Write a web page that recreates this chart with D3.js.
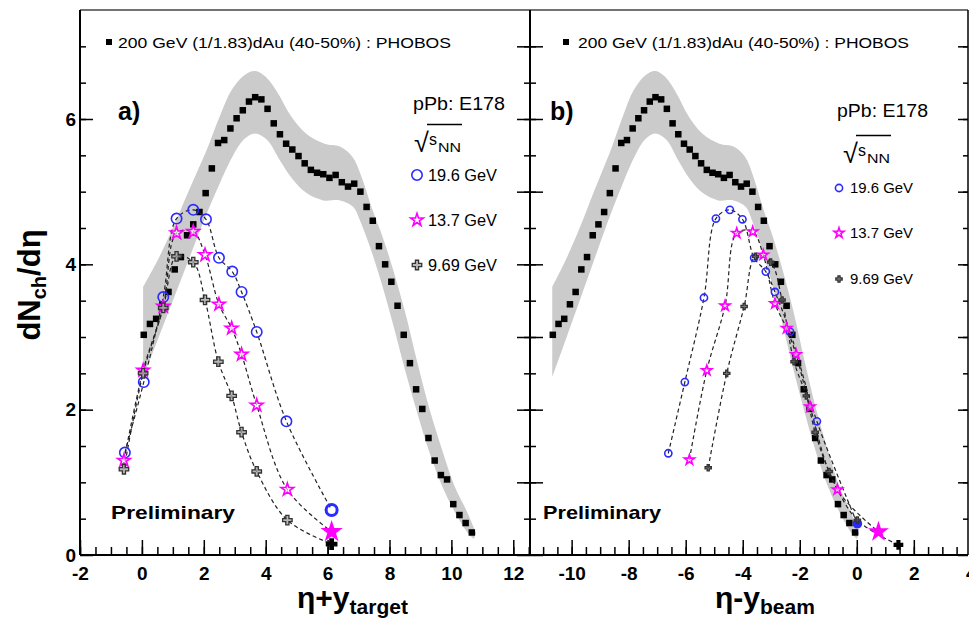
<!DOCTYPE html>
<html>
<head>
<meta charset="utf-8">
<script src="https://cdn.jsdelivr.net/npm/d3@7/dist/d3.min.js"></script>
<style>
html,body{margin:0;padding:0;background:#fff;}
svg{display:block;}
text{font-family:"Liberation Sans",Arial,Helvetica,sans-serif;fill:#000;}
</style>
</head>
<body>
<svg id="chart" width="969" height="623"></svg>
<script>
// ---------------- data ----------------
const yTarget = 5.36;   // η + y_target (left panel)
const yBeam = 5.36;     // η − y_beam (right panel)

// PHOBOS 200 GeV (1/1.83) dAu (40-50%)
const phobosEta = [-5.3,-5.1,-4.9,-4.7,-4.5,-4.3,-4.1,-3.9,-3.7,-3.5,-3.3,-3.1,-2.9,-2.7,-2.5,-2.3,-2.1,-1.9,-1.7,-1.5,-1.3,-1.1,-0.9,-0.7,-0.5,-0.3,-0.1,0.1,0.3,0.5,0.7,0.9,1.1,1.3,1.5,1.7,1.9,2.1,2.3,2.5,2.7,2.9,3.1,3.3,3.5,3.7,3.9,4.1,4.3,4.5,4.7,4.9,5.1,5.3];
const phobosDN = [3.03,3.18,3.25,3.45,3.62,3.93,4.10,4.40,4.55,4.72,4.98,5.32,5.67,5.71,5.87,6.01,6.12,6.24,6.30,6.27,6.14,5.94,5.79,5.66,5.58,5.49,5.39,5.30,5.26,5.24,5.19,5.23,5.13,5.07,5.11,5.00,4.79,4.60,4.25,4.00,3.76,3.43,3.03,2.64,2.28,2.01,1.61,1.30,1.10,1.04,0.70,0.55,0.44,0.31];

// PHOBOS systematic band edges (in η + y_target)
const bandUpX = [0.04,0.5,1.0,1.5,2.09,2.5,2.9,3.3,3.65,4.0,4.4,4.8,5.3,5.9,6.4,6.8,7.1,7.45,7.8,8.1,8.5,8.9,9.3,9.7,10.1,10.5,10.8];
const bandUpY = [3.69,4.05,4.5,5.0,5.57,6.02,6.4,6.6,6.66,6.58,6.35,6.05,5.8,5.66,5.62,5.48,5.2,4.75,4.35,3.95,3.35,2.65,2.0,1.45,0.95,0.6,0.3];
const bandLoX = [0.04,0.5,1.0,1.5,2.0,2.5,2.95,3.3,3.65,4.05,4.46,4.89,5.32,5.86,6.4,6.83,7.04,7.37,7.7,8.1,8.5,8.9,9.3,9.7,10.1,10.5,10.72];
const bandLoY = [2.45,2.95,3.5,4.05,4.6,5.1,5.5,5.72,5.80,5.71,5.43,5.16,4.98,4.88,4.88,4.79,4.61,4.24,3.8,3.2,2.55,1.95,1.4,0.95,0.6,0.32,0.22];

// E178 pPb, left panel (η + y_target)
const left196X = [-0.55,0.06,0.69,1.12,1.66,2.07,2.49,2.92,3.22,3.71,4.67,6.13];
const left196Y = [1.41,2.38,3.55,4.63,4.75,4.62,4.09,3.90,3.62,3.07,1.84,0.62];
const left137X = [-0.58,0.04,0.69,1.12,1.66,2.04,2.49,2.90,3.22,3.71,4.70,6.13];
const left137Y = [1.30,2.54,3.42,4.43,4.45,4.13,3.45,3.12,2.76,2.06,0.90,0.32];
const left969X = [-0.58,0.04,0.69,1.12,1.66,2.04,2.47,2.90,3.22,3.71,4.70,6.13];
const left969Y = [1.18,2.50,3.40,4.11,4.03,3.51,2.66,2.19,1.69,1.15,0.48,0.15];

// E178 pPb, right panel (η − y_beam)
const right196X = [-6.61,-6.03,-5.36,-4.94,-4.45,-4.01,-3.60,-3.19,-2.87,-2.34,-1.40,0.02];
const right196Y = [1.40,2.38,3.54,4.63,4.75,4.62,4.09,3.90,3.62,3.07,1.84,0.43];
const right137X = [-5.87,-5.26,-4.62,-4.21,-3.65,-3.28,-2.87,-2.46,-2.13,-1.64,-0.68,0.76];
const right137Y = [1.31,2.54,3.43,4.43,4.45,4.13,3.46,3.12,2.76,2.04,0.90,0.32];
const right969X = [-5.21,-4.56,-3.95,-3.55,-3.02,-2.62,-2.20,-1.77,-1.46,-0.97,0.02,1.46];
const right969Y = [1.20,2.50,3.42,4.11,4.03,3.51,2.66,2.19,1.69,1.15,0.48,0.14];

const energyLabels = ["19.6 GeV", "13.7 GeV", "9.69 GeV"];
const phobosLabel = "200 GeV (1/1.83)dAu (40-50%) : PHOBOS";
const xTicksLeft = [-2,0,2,4,6,8,10,12];
const xTicksRight = [-10,-8,-6,-4,-2,0,2,4];
const yTicks = [0,2,4,6];

// ---------------- layout ----------------
const svg = d3.select("#chart");
const FONT = '"Liberation Sans",Arial,Helvetica,sans-serif';
const yS = d3.scaleLinear().domain([0, 7.5]).range([555, 10]);
const xL = d3.scaleLinear().domain([-2, 12.54]).range([80, 530]);
const xR = d3.scaleLinear().domain([-11.46, 3.9]).range([530, 968]);

const BLUE = "#2b2bff", MAG = "#ff00ff", CROSS = "#333";

const defs = svg.append("defs");
defs.append("clipPath").attr("id","clipL").append("rect").attr("x",80).attr("y",10).attr("width",450).attr("height",545);
defs.append("clipPath").attr("id","clipR").append("rect").attr("x",530).attr("y",10).attr("width",438).attr("height",545);

function halfTicks(lo, hi) {
  return d3.range(Math.round(lo * 2), Math.round(hi * 2) + 1).map(k => k / 2);
}

function drawPanel(x, clipId, shiftPh, sets, side) {
  const g = svg.append("g").attr("clip-path", `url(#${clipId})`);
  // band
  const line = d3.line().curve(d3.curveCatmullRom.alpha(0.5));
  const up = line(bandUpX.map((v, i) => [x(v - yTarget + shiftPh), yS(bandUpY[i])]));
  const lo = line(bandLoX.map((v, i) => [x(v - yTarget + shiftPh), yS(bandLoY[i])]).reverse());
  g.append("path").attr("d", up + "L" + lo.slice(1) + "Z").attr("fill", "#cbcbcb").attr("stroke", "none");
  // PHOBOS squares
  const s = 6.5;
  g.selectAll("rect.ph").data(phobosEta).join("rect").attr("class","ph")
    .attr("x", (d) => x(d + shiftPh) - s / 2)
    .attr("y", (d, i) => yS(phobosDN[i]) - s / 2)
    .attr("width", s).attr("height", s).attr("fill", "#000");
  // dashed curves
  const cl = d3.line().curve(d3.curveCatmullRom.alpha(0.5)).x(d => x(d[0])).y(d => yS(d[1]));
  sets.forEach(st => {
    g.append("path").attr("d", cl(st.xs.map((v, i) => [v, st.ys[i]])))
      .attr("fill", "none").attr("stroke", "#222").attr("stroke-width", 1.2).attr("stroke-dasharray", "4,3");
  });
  // markers
  sets.forEach(st => {
    st.xs.forEach((v, i) => {
      const last = i === st.xs.length - 1;
      drawMarker(g, st.kind, x(v), yS(st.ys[i]), side, last);
    });
  });
}

function drawMarker(g, kind, cx, cy, side, last) {
  const small = side === "R";
  if (kind === "circle") {
    g.append("circle").attr("cx", cx).attr("cy", cy)
      .attr("r", small ? (last ? 4 : 3.6) : (last ? 5.5 : 5.2))
      .attr("fill", small && last ? BLUE : "none")
      .attr("stroke", BLUE).attr("stroke-width", !small && last ? 3 : 1.6);
  } else if (kind === "star") {
    const size = small ? (last ? 80 : 32) : (last ? 95 : 50);
    g.append("path").attr("d", d3.symbol().type(d3.symbolStar).size(size)())
      .attr("transform", `translate(${cx},${cy})`)
      .attr("fill", last ? MAG : "#fff").attr("fill-opacity", last ? 1 : 0.6)
      .attr("stroke", MAG).attr("stroke-width", 1.6);
  } else {
    const size = small ? (last ? 40 : 22) : (last ? 60 : 50);
    g.append("path").attr("d", d3.symbol().type(d3.symbolCross).size(size)())
      .attr("transform", `translate(${cx},${cy})`)
      .attr("fill", last ? "#000" : (small ? "#555" : "#a0a0a0")).attr("fill-opacity", last ? 1 : 0.75)
      .attr("stroke", last ? "#000" : CROSS).attr("stroke-width", 1.3);
  }
}

drawPanel(xL, "clipL", yTarget, [
  {xs: left196X, ys: left196Y, kind: "circle"},
  {xs: left137X, ys: left137Y, kind: "star"},
  {xs: left969X, ys: left969Y, kind: "cross"}
], "L");
drawPanel(xR, "clipR", -yBeam, [
  {xs: right196X, ys: right196Y, kind: "circle"},
  {xs: right137X, ys: right137Y, kind: "star"},
  {xs: right969X, ys: right969Y, kind: "cross"}
], "R");

// ---------------- axes ----------------
function styleAxis(sel, fs) {
  sel.attr("font-family", FONT).attr("font-size", fs || 19).attr("font-weight", "bold");
  sel.select(".domain").remove();
  sel.selectAll("line").attr("stroke", "#000").attr("stroke-width", 1.5);
  sel.selectAll("text").attr("fill", "#000");
}
const fmt = d => String(d);

// bottom axes
let a;
a = svg.append("g").attr("transform", "translate(0,555)")
  .call(d3.axisBottom(xL).tickValues(halfTicks(-2, 12.5)).tickSize(-8).tickFormat("")); styleAxis(a);
a = svg.append("g").attr("transform", "translate(0,555)")
  .call(d3.axisBottom(xL).tickValues(xTicksLeft).tickSize(-15).tickPadding(12).tickFormat(fmt)); styleAxis(a);
a = svg.append("g").attr("transform", "translate(0,555)")
  .call(d3.axisBottom(xR).tickValues(halfTicks(-11, 3.5)).tickSize(-8).tickFormat("")); styleAxis(a);
a = svg.append("g").attr("transform", "translate(0,555)")
  .call(d3.axisBottom(xR).tickValues(xTicksRight).tickSize(-15).tickPadding(12).tickFormat(fmt)); styleAxis(a);

// left y axis
a = svg.append("g").attr("transform", "translate(80,0)")
  .call(d3.axisLeft(yS).tickValues(halfTicks(0.5, 7)).tickSize(-6).tickFormat("")); styleAxis(a);
a = svg.append("g").attr("transform", "translate(80,0)")
  .call(d3.axisLeft(yS).tickValues(yTicks).tickSize(-13).tickPadding(4).tickFormat(fmt)); styleAxis(a);
// middle shared axis: ticks into both panels
a = svg.append("g").attr("transform", "translate(530,0)")
  .call(d3.axisRight(yS).tickValues(halfTicks(0.5, 7)).tickSize(-6).tickFormat("")); styleAxis(a);
a = svg.append("g").attr("transform", "translate(530,0)")
  .call(d3.axisRight(yS).tickValues(yTicks.concat([1,3,5,7])).tickSize(-13).tickFormat("")); styleAxis(a);
a = svg.append("g").attr("transform", "translate(530,0)")
  .call(d3.axisLeft(yS).tickValues(halfTicks(0.5, 7)).tickSize(-6).tickFormat("")); styleAxis(a);
a = svg.append("g").attr("transform", "translate(530,0)")
  .call(d3.axisLeft(yS).tickValues(yTicks.concat([1,3,5,7])).tickSize(-13).tickFormat("")); styleAxis(a);
// right edge
a = svg.append("g").attr("transform", "translate(968,0)")
  .call(d3.axisRight(yS).tickValues(halfTicks(0.5, 7)).tickSize(-5).tickFormat("")); styleAxis(a);
a = svg.append("g").attr("transform", "translate(968,0)")
  .call(d3.axisRight(yS).tickValues(yTicks.concat([1,3,5,7])).tickSize(-10).tickFormat("")); styleAxis(a);

// frame
const frame = svg.append("g").attr("stroke", "#000").attr("fill", "none");
frame.append("line").attr("x1", 80).attr("x2", 968).attr("y1", 10).attr("y2", 10).attr("stroke-width", 1.3).attr("stroke", "#444");
frame.append("line").attr("x1", 80).attr("x2", 968).attr("y1", 555).attr("y2", 555).attr("stroke-width", 2);
frame.append("line").attr("x1", 80).attr("x2", 80).attr("y1", 10).attr("y2", 555).attr("stroke-width", 2);
frame.append("line").attr("x1", 530).attr("x2", 530).attr("y1", 10).attr("y2", 555).attr("stroke-width", 2);
frame.append("line").attr("x1", 968).attr("x2", 968).attr("y1", 10).attr("y2", 555).attr("stroke-width", 1.5);

// ---------------- texts ----------------
function txt(x, y, s, opts) {
  const t = svg.append("text").attr("x", x).attr("y", y).text(s)
    .attr("font-size", opts.fs).attr("font-weight", opts.bold ? "bold" : "normal");
  if (opts.len) t.attr("textLength", opts.len).attr("lengthAdjust", "spacingAndGlyphs");
  return t;
}

// PHOBOS legend
svg.append("rect").attr("x", 106).attr("y", 39).attr("width", 6).attr("height", 6).attr("fill", "#000");
txt(118, 47.5, phobosLabel, {fs: 15, len: 333});
svg.append("rect").attr("x", 563).attr("y", 39).attr("width", 6).attr("height", 6).attr("fill", "#000");
txt(578, 47.5, phobosLabel, {fs: 15, len: 331});

// panel labels
txt(118, 120, "a)", {fs: 25, bold: true});
txt(550, 120, "b)", {fs: 25, bold: true});

// pPb legends
function e178Legend(x0, yTitle, sqrtY, ys, fsE, lenE, side) {
  txt(x0, yTitle, "pPb: E178", {fs: 18, len: side === "L" ? 92 : 91});
  const sx = x0 + (side === "L" ? 1 : 6);
  svg.append("text").attr("x", sx).attr("y", sqrtY).attr("font-size", 27).attr("font-family", "DejaVu Sans").text("√");
  svg.append("line").attr("x1", sx + 13).attr("x2", sx + 48).attr("y1", sqrtY - 27.5).attr("y2", sqrtY - 27.5).attr("stroke", "#000").attr("stroke-width", 1.6);
  txt(sx + 15, sqrtY - 7, "s", {fs: 16});
  txt(sx + 24, sqrtY, "NN", {fs: 12, len: 23});
  const kinds = ["circle", "star", "cross"];
  ys.forEach((yy, i) => {
    drawMarker(svg, kinds[i], x0 + (side === "L" ? 4 : 2), yy, side, false);
    txt(x0 + (side === "L" ? 15 : 13), yy + fsE * 0.36, energyLabels[i], {fs: fsE, len: lenE});
  });
}
e178Legend(413, 110, 152, [175, 220, 265], 16, 69, "L");
e178Legend(837, 117, 163, [188, 233, 279], 14, 63, "R");

// Preliminary
txt(111, 519, "Preliminary", {fs: 19, bold: true, len: 124});
txt(543, 519, "Preliminary", {fs: 19, bold: true, len: 118});

// y title
const yt = svg.append("text").attr("transform", "translate(40,285) rotate(-90)")
  .attr("text-anchor", "middle").attr("font-weight", "bold").attr("font-size", 31);
yt.append("tspan").text("dN");
yt.append("tspan").attr("font-size", 20).attr("dy", 6).text("ch");
yt.append("tspan").attr("dy", -6).text("/dη");

// x titles
function xTitle(x0, main, sub) {
  const t = svg.append("text").attr("x", x0).attr("y", 608).attr("font-weight", "bold").attr("font-size", 30);
  t.append("tspan").text(main);
  t.append("tspan").attr("font-size", 21).attr("dy", 6).text(sub);
}
xTitle(297, "η+y", "target");
xTitle(715, "η-y", "beam");
</script>
</body>
</html>
